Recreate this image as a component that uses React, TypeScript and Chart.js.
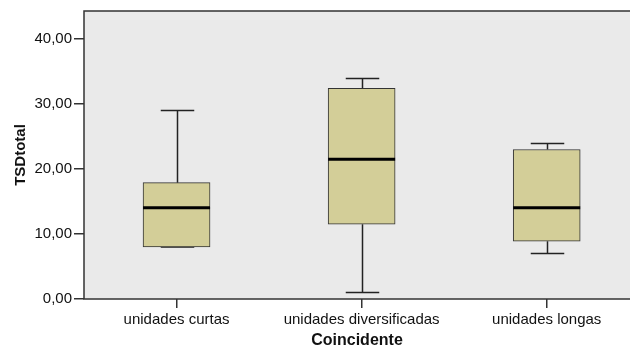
import React, { useEffect, useRef } from "react";
import { Chart, registerables } from "chart.js";

Chart.register(...registerables);

const categories = ["unidades curtas", "unidades diversificadas", "unidades longas"];
const whiskerMin = [8.0, 1.0, 7.0];
const q1 = [8.0, 11.5, 8.9];
const median = [14.05, 21.5, 14.05];
const q3 = [17.9, 32.4, 23.0];
const whiskerMax = [29.0, 33.9, 23.9];
const yTicks = [0, 10, 20, 30, 40];

const BOX_W = 67;
const FONT = "'Liberation Sans', Arial, sans-serif";

const boxPlugin = {
  id: "boxExtras",
  beforeDraw(chart: any) {
    const { ctx, chartArea } = chart;
    ctx.save();
    ctx.fillStyle = "#eaeaea";
    ctx.fillRect(chartArea.left, chartArea.top, chartArea.right - chartArea.left, chartArea.bottom - chartArea.top);
    ctx.restore();
  },
  beforeDatasetsDraw(chart: any) {
    const { ctx } = chart;
    const xs = chart.scales.x;
    const ys = chart.scales.y;
    ctx.save();
    ctx.strokeStyle = "#222";
    ctx.lineWidth = 1.5;
    categories.forEach((_, i) => {
      const x = Math.round(xs.getPixelForValue(i)) + 0.5;
      const yMax = ys.getPixelForValue(whiskerMax[i]);
      const yMin = ys.getPixelForValue(whiskerMin[i]);
      const yQ1 = ys.getPixelForValue(q1[i]);
      const yQ3 = ys.getPixelForValue(q3[i]);
      const half = BOX_W / 4;
      ctx.beginPath();
      ctx.moveTo(x, yMax);
      ctx.lineTo(x, yQ3);
      ctx.moveTo(x, yQ1);
      ctx.lineTo(x, yMin);
      ctx.moveTo(x - half, yMax);
      ctx.lineTo(x + half, yMax);
      ctx.moveTo(x - half, yMin);
      ctx.lineTo(x + half, yMin);
      ctx.stroke();
    });
    ctx.restore();
  },
  afterDatasetsDraw(chart: any) {
    const { ctx, chartArea } = chart;
    const xs = chart.scales.x;
    const ys = chart.scales.y;
    ctx.save();
    ctx.strokeStyle = "#000";
    ctx.lineWidth = 3;
    categories.forEach((_, i) => {
      const x = xs.getPixelForValue(i);
      const y = ys.getPixelForValue(median[i]);
      ctx.beginPath();
      ctx.moveTo(x - BOX_W / 2, y);
      ctx.lineTo(x + BOX_W / 2, y);
      ctx.stroke();
    });
    ctx.strokeStyle = "#333";
    ctx.lineWidth = 1.5;
    ctx.strokeRect(chartArea.left, chartArea.top, chartArea.right - chartArea.left + 5, chartArea.bottom - chartArea.top);
    ctx.restore();
  },
};

export default function App() {
  const ref = useRef<HTMLCanvasElement | null>(null);
  useEffect(() => {
    document.body.style.margin = "0";
    const canvas = ref.current;
    if (!canvas) return;
    const chart = new Chart(canvas, {
      type: "bar",
      data: {
        datasets: [
          {
            data: categories.map((_, i) => ({ x: i, y: [q1[i], q3[i]] })) as any,
            backgroundColor: "#d3ce98",
            borderColor: "#333",
            borderWidth: 1,
            borderSkipped: false,
            barThickness: BOX_W,
          },
        ],
      },
      options: {
        animation: false,
        responsive: false,
        devicePixelRatio: 1,
        layout: { padding: { top: 10, left: 0, right: 0, bottom: 0 } },
        plugins: { legend: { display: false }, tooltip: { enabled: false } },
        scales: {
          x: {
            type: "linear",
            offset: false,
            min: -0.5,
            max: 2.45,
            afterBuildTicks: (axis: any) => {
              axis.ticks = categories.map((_, i) => ({ value: i }));
            },
            afterFit: (axis: any) => {
              axis.height = 54;
            },
            grid: { offset: false, drawOnChartArea: false, drawTicks: true, tickLength: 9, color: "#333", lineWidth: 1.5 },
            border: { display: false },
            ticks: {
              autoSkip: false,
              maxRotation: 0,
              padding: 3,
              color: "#111",
              font: { family: FONT, size: 15 },
              callback: (v: any) => categories[v] ?? "",
            },
            title: {
              display: true,
              text: "Coincidente",
              color: "#111",
              font: { family: FONT, size: 16, weight: "bold" },
              padding: { top: 0, bottom: 3 },
            },
          },
          y: {
            min: 0,
            max: 44.3,
            afterBuildTicks: (axis: any) => {
              axis.ticks = yTicks.map((v) => ({ value: v }));
            },
            afterFit: (axis: any) => {
              axis.width = 84;
            },
            grid: { drawOnChartArea: false, drawTicks: true, tickLength: 10, color: "#333", lineWidth: 1.5 },
            border: { display: false },
            ticks: {
              padding: 2,
              color: "#111",
              font: { family: FONT, size: 15 },
              callback: (v: any) => Number(v).toFixed(2).replace(".", ","),
            },
            title: {
              display: true,
              text: "TSDtotal",
              color: "#111",
              font: { family: FONT, size: 15, weight: "bold" },
              padding: { top: 12, bottom: 0 },
            },
          },
        },
      },
      plugins: [boxPlugin],
    });
    return () => chart.destroy();
  }, []);
  return (
    <div style={{ width: 630, height: 353 }}>
      <canvas ref={ref} width={630} height={353} />
    </div>
  );
}
